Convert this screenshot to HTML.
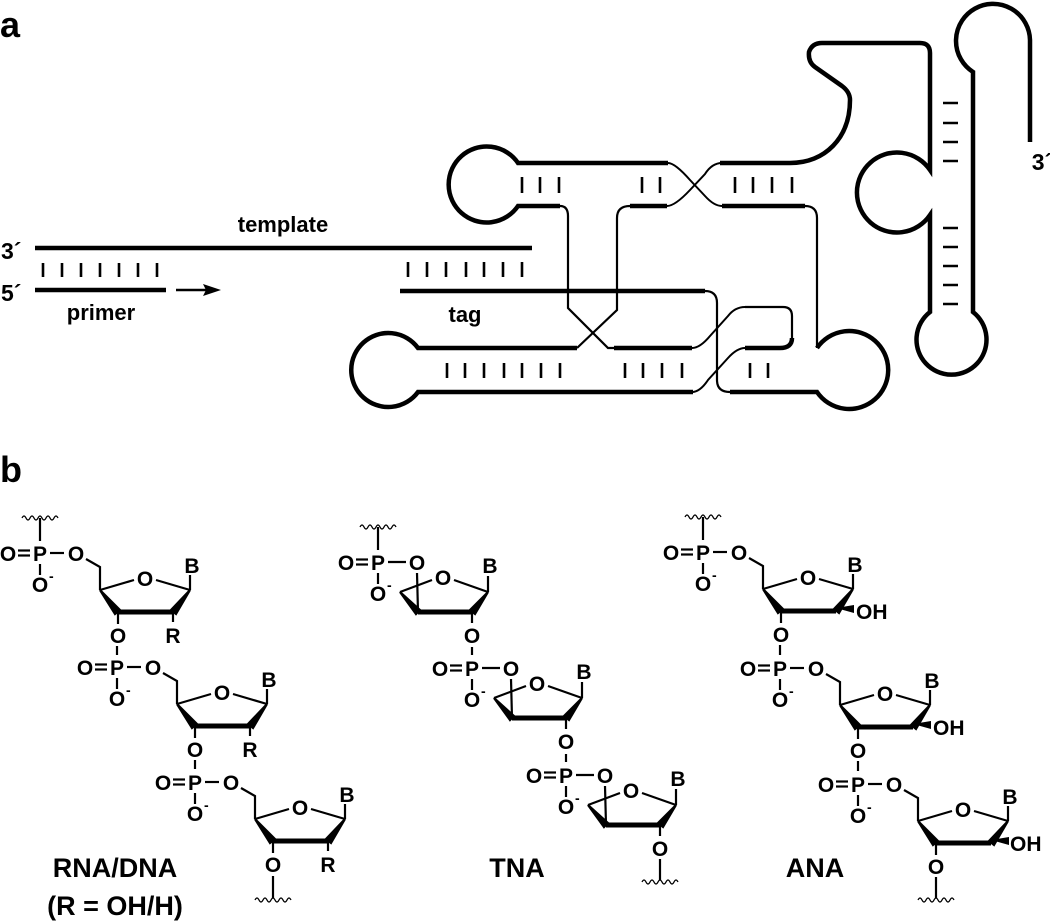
<!DOCTYPE html>
<html><head><meta charset="utf-8"><style>
html,body{margin:0;padding:0;background:#fff;}
svg{display:block;}
text{font-family:"Liberation Sans",Arial,sans-serif;font-weight:bold;fill:#000;}
</style></head><body>
<svg width="1050" height="921" viewBox="0 0 1050 921" xmlns="http://www.w3.org/2000/svg">
<defs>
<g id="wav"><path d="M-18,0 q2,-4 4,0 q2,4 4,0 q2,-4 4,0 q2,4 4,0 q2,-4 4,0 q2,4 4,0 q2,-4 4,0 q2,4 4,0 q2,-4 4,0" fill="none" stroke="#000" stroke-width="1.3"/></g>
<g id="phos" stroke="#000" stroke-width="2.2" fill="none">
  <text x="-32" y="8" font-size="21" text-anchor="middle" stroke="none">O</text>
  <text x="0" y="8" font-size="21" text-anchor="middle" stroke="none">P</text>
  <text x="0" y="39" font-size="21" text-anchor="middle" stroke="none">O</text>
  <text x="9" y="28" font-size="14" stroke="none">-</text>
  <line x1="-22" y1="-2.5" x2="-10" y2="-2.5"/><line x1="-22" y1="2.5" x2="-10" y2="2.5"/>
  <line x1="0" y1="11" x2="0" y2="22"/>
</g>
<g id="rna" stroke="#000" stroke-width="2.2" fill="none">
  <use href="#phos"/>
  <line x1="10" y1="0" x2="24" y2="0"/>
  <text x="36" y="8" font-size="21" text-anchor="middle" stroke="none">O</text>
  <polyline points="46,6 60,14 60,37"/>
  <line x1="60" y1="37" x2="94" y2="27"/>
  <text x="105" y="33" font-size="21" text-anchor="middle" stroke="none">O</text>
  <line x1="116" y1="27" x2="150" y2="37"/>
  <polygon points="150,37 131,57 136,61" fill="#000"/>
  <polygon points="60,37 80,57 75,61" fill="#000"/>
  <line x1="78" y1="59" x2="133" y2="59" stroke-width="5"/>
  <line x1="150" y1="37" x2="150" y2="22"/>
  <text x="152" y="20" font-size="21" text-anchor="middle" stroke="none">B</text>
  <line x1="78" y1="59" x2="78" y2="71"/>
  <text x="78" y="90" font-size="21" text-anchor="middle" stroke="none">O</text>
</g>
<g id="tna" stroke="#000" stroke-width="2.2" fill="none">
  <use href="#phos"/>
  <line x1="10" y1="0" x2="28" y2="0"/>
  <text x="39" y="8" font-size="21" text-anchor="middle" stroke="none">O</text>
  <line x1="39" y1="11" x2="40" y2="50"/>
  <line x1="22" y1="30" x2="54" y2="18"/>
  <text x="65" y="23" font-size="21" text-anchor="middle" stroke="none">O</text>
  <line x1="76" y1="18" x2="110" y2="30"/>
  <polygon points="110,30 92,48 97,52" fill="#000"/>
  <polygon points="22,30 42,48 38,52" fill="#000"/>
  <line x1="40" y1="50" x2="94" y2="50" stroke-width="5"/>
  <line x1="110" y1="30" x2="110" y2="14"/>
  <text x="112" y="11" font-size="21" text-anchor="middle" stroke="none">B</text>
  <line x1="94" y1="50" x2="94" y2="61"/>
  <text x="94" y="81" font-size="21" text-anchor="middle" stroke="none">O</text>
</g>
</defs>

<text x="0" y="37" font-size="36">a</text>
<text x="0" y="482" font-size="36">b</text>

<text x="1" y="259" font-size="23">3´</text>
<text x="1" y="301" font-size="23">5´</text>
<text x="283" y="232" font-size="22" text-anchor="middle">template</text>
<text x="101" y="320" font-size="22" text-anchor="middle">primer</text>
<text x="465" y="322" font-size="22" text-anchor="middle">tag</text>
<text x="1042" y="170" font-size="23" text-anchor="middle">3´</text>

<g stroke="#000" fill="none" stroke-linecap="butt">
  <line x1="35" y1="248" x2="532" y2="248" stroke-width="4.5"/>
  <line x1="35" y1="290" x2="166" y2="290" stroke-width="4.5"/>
  <line x1="176" y1="290" x2="210" y2="290" stroke-width="2.5"/>
  <polygon points="221,290 203,284 206,290 203,296" fill="#000" stroke="none"/>
  <line x1="400" y1="291" x2="705" y2="291" stroke-width="4.5"/>

  <g stroke-width="2.6">
    <path d="M43,263v14M62,263v14M81,263v14M100,263v14M119,263v14M138,263v14M157,263v14"/>
    <path d="M408,262v15M427,262v15M446,262v15M466,262v15M484,262v15M503,262v15M522,262v15"/>
    <path d="M522,177v16M540,177v16M559,177v16M642,177v16M660,177v16M735,177v16M753,177v16M772,177v16M792,177v16"/>
    <path d="M447,363v15M465,363v15M484,363v15M504,363v15M522,363v15M541,363v15M560,363v15M625,363v15M643,363v15M662,363v15M682,363v15M750,363v15M768,363v15"/>
    <path d="M943,103h15M943,123h15M943,142h15M943,161h15M943,228h15M943,247h15M943,266h15M943,285h15M943,304h15"/>
  </g>

  <path d="M668,163 L518,163 A38,38 0 1 0 518,206 L560,206" stroke-width="4.5"/>
  <path d="M560,206 Q568,206 568,216 L568,308 L608,348 L614,348" stroke-width="2.2"/>
  <path d="M614,348 L692,348" stroke-width="4.5"/>
  <path d="M668,163 Q675,163 690,180 L705,196 Q714,206 722,206" stroke-width="2"/>
  <path d="M667,206 Q675,206 690,190 L705,174 Q712,163 722,163" stroke-width="2"/>
  <path d="M667,206 L630,206" stroke-width="4.5"/>
  <path d="M630,206 Q617,206 617,218 L617,310 L577,348" stroke-width="2.2"/>
  <path d="M720,163 L790,163 C825,163 850,138 850,100 Q850,92 842,86 L815,67 Q808,62 809,52 Q812,43 822,43 L920,43 Q930,43 930,53 L930,170 A40,40 0 1 0 930,215 L930,312 A35,35 0 1 0 973,312 L973,72 A37,37 0 1 1 1030,40 L1030,142" stroke-width="4.5"/>
  <path d="M722,206 L805,206" stroke-width="4.5"/>
  <path d="M805,206 Q817,206 817,218 L817,348" stroke-width="2.2"/>
  <path d="M817,348 A39,39 0 1 1 817,392 L730,392" stroke-width="4.5"/>
  <path d="M577,348 L418,348 A37,37 0 1 0 418,392 L693,392" stroke-width="4.5"/>
  <path d="M705,291 Q717,291 717,303 L717,380 Q717,392 730,392" stroke-width="2.2"/>
  <path d="M692,348 Q700,348 710,336 L728,316 Q735,307 745,307" stroke-width="2"/>
  <path d="M745,307 L783,307 Q792,307 792,316 L792,338" stroke-width="2.2"/>
  <path d="M792,338 Q792,348 780,348 L745,348" stroke-width="4.5"/>
  <path d="M745,348 Q737,348 728,358 L708,380 Q700,392 692,392" stroke-width="2"/>
</g>

<g stroke="#000" stroke-width="2.2" fill="none">
  <line x1="40" y1="518" x2="40" y2="541"/>
  <use href="#wav" x="40" y="518"/>
  <line x1="117" y1="646" x2="117" y2="655"/>
  <line x1="195" y1="760" x2="195" y2="769"/>
  <line x1="273" y1="876" x2="273" y2="898"/>
  <use href="#wav" x="273" y="900"/>
  <line x1="703" y1="517" x2="703" y2="540"/>
  <use href="#wav" x="703" y="517"/>
  <line x1="780" y1="645" x2="780" y2="655"/>
  <line x1="858" y1="761" x2="858" y2="771"/>
  <line x1="936" y1="877" x2="936" y2="898"/>
  <use href="#wav" x="936" y="900"/>
  <line x1="378" y1="527" x2="378" y2="550"/>
  <use href="#wav" x="378" y="527"/>
  <line x1="472" y1="647" x2="472" y2="655"/>
  <line x1="566" y1="754" x2="566" y2="762"/>
  <line x1="660" y1="859" x2="660" y2="880"/>
  <use href="#wav" x="660" y="882"/>
</g>

<g transform="translate(40,553)"><use href="#rna"/></g>
<g transform="translate(117,667)"><use href="#rna"/></g>
<g transform="translate(195,782)"><use href="#rna"/></g>
<g stroke="#000" stroke-width="2.2">
  <line x1="173" y1="612" x2="173" y2="622"/>
  <line x1="250" y1="726" x2="250" y2="736"/>
  <line x1="328" y1="841" x2="328" y2="851"/>
</g>
<text x="173" y="643" font-size="21" text-anchor="middle">R</text>
<text x="250" y="757" font-size="21" text-anchor="middle">R</text>
<text x="328" y="872" font-size="21" text-anchor="middle">R</text>

<g transform="translate(378,562)"><use href="#tna"/></g>
<g transform="translate(472,668)"><use href="#tna"/></g>
<g transform="translate(566,775)"><use href="#tna"/></g>

<g transform="translate(703,552)"><use href="#rna"/></g>
<g transform="translate(780,668)"><use href="#rna"/></g>
<g transform="translate(858,784)"><use href="#rna"/></g>
<g fill="#000">
  <polygon points="836,608 854,605 854,613"/>
  <polygon points="913,724 931,721 931,729"/>
  <polygon points="991,840 1009,837 1009,845"/>
</g>
<text x="856" y="619" font-size="21">OH</text>
<text x="933" y="735" font-size="21">OH</text>
<text x="1010" y="851" font-size="21">OH</text>

<text x="115" y="877" font-size="27" text-anchor="middle">RNA/DNA</text>
<text x="115" y="915" font-size="27" text-anchor="middle">(R = OH/H)</text>
<text x="517" y="877" font-size="27" text-anchor="middle">TNA</text>
<text x="815" y="877" font-size="27" text-anchor="middle">ANA</text>
</svg>
</body></html>
